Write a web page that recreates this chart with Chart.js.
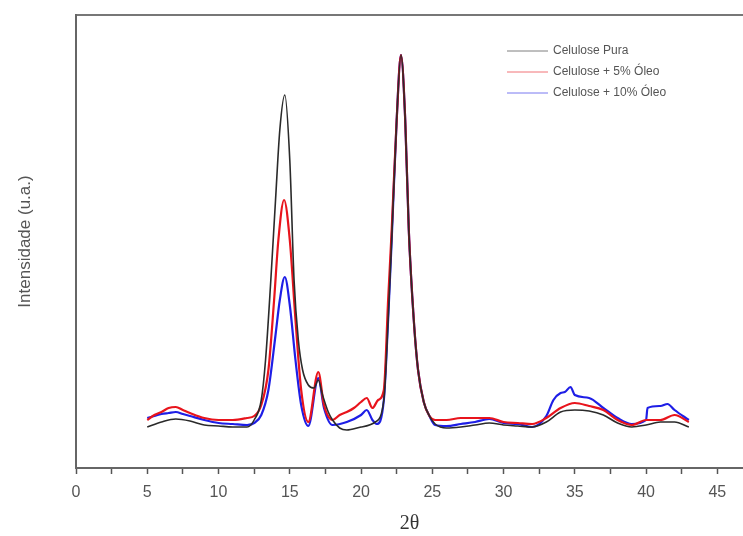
<!DOCTYPE html>
<html>
<head>
<meta charset="utf-8">
<script src="https://cdn.jsdelivr.net/npm/chart.js@4/dist/chart.umd.min.js"></script>
<style>
  html, body { margin:0; padding:0; background:#fff; }
  #wrap { width:743px; height:536px; position:relative; }
</style>
</head>
<body>
<div id="wrap"><canvas id="grafico"></canvas></div>
<script>
// ---------------- Dados ----------------
const rotulos = ['Celulose Pura', 'Celulose + 5% Óleo', 'Celulose + 10% Óleo'];
const xTicks = [0, 5, 10, 15, 20, 25, 30, 35, 40, 45];

const xPura = [5,6,7,8,9,10,11,12,12.5,13,13.3,13.67,14,14.3,14.65,15,15.3,15.6,15.9,16.3,16.7,17,17.3,17.7,18,18.5,19,20,21,21.6,21.9,22.15,22.5,22.8,23.1,23.35,23.7,24,24.4,24.8,25.2,26,27,28,29,30,31,32,33,34,35,36,37,38,39,40,41,42,43];
const yPura = [41,46,49,47,43,42,41,41,48,68,108,188,268,338,373,308,188,128,98,83,80,88,73,56,48,40,38,41,46,68,148,228,348,413,348,238,148,98,66,52,44,40,41,43,45,43,42,41,46,56,58,57,53,45,41,43,46,46,41];

const x5 = [5,5.5,6,6.5,7,7.5,8,9,10,11,12,12.5,13,13.5,13.9,14.2,14.6,15,15.4,15.8,16.3,17,17.4,18,18.5,19,19.5,20,20.4,20.8,21.2,21.6,21.9,22.15,22.5,22.8,23.1,23.35,23.7,24,24.4,24.8,25.2,26,27,28,29,30,31,32,33,34,35,36,37,38,39,40,41,42,43];
const y5 = [48,53,56,60,61,58,55,50,48,48,50,52,63,98,168,228,268,228,148,78,46,96,63,48,53,56,60,66,70,60,68,78,168,238,348,413,348,238,148,98,66,52,48,48,50,50,50,46,45,44,50,60,65,62,58,48,43,48,48,53,46];

const x10 = [5,5.5,6,6.5,7,7.5,8,9,10,11,12,12.5,13,13.5,14,14.3,14.65,15,15.4,15.8,16.3,17,17.4,18,19,20,20.4,20.8,21.1,21.6,21.9,22.15,22.5,22.8,23.1,23.35,23.7,24,24.4,24.8,25.2,26,27,28,29,30,31,32,33,33.5,34,34.3,34.7,35,36,37,38,39,40,40.1,41,41.5,42,43];
const y10 = [50,52,54,55,56,54,52,48,45,44,43,45,53,78,133,168,191,163,108,63,42,90,60,43,46,53,58,48,44,68,148,228,348,413,348,238,148,98,66,52,43,42,44,46,49,45,44,41,52,68,75,76,81,73,70,60,50,44,48,60,62,64,58,48];

const cores = ['#2a2a2a', '#e8141c', '#1e1ee6'];
const espessuras = [1.6, 2.2, 2.2];

// ---------------- Funções ----------------
const pares = (xs, ys) => xs.map((x, i) => ({ x: x, y: ys[i] }));

// legenda desenhada dentro da área do gráfico
const legendaInterna = {
  id: 'legendaInterna',
  afterDraw(chart) {
    const ctx = chart.ctx;
    ctx.save();
    ctx.font = '12px "Liberation Sans", Arial, sans-serif';
    ctx.textBaseline = 'middle';
    chart.data.datasets.forEach((ds, i) => {
      const y = 51 + i * 21;
      ctx.strokeStyle = ds.borderColor;
      ctx.globalAlpha = 0.6;
      ctx.lineWidth = 1;
      ctx.beginPath();
      ctx.moveTo(507, y);
      ctx.lineTo(548, y);
      ctx.stroke();
      ctx.globalAlpha = 1;
      ctx.fillStyle = '#555';
      ctx.fillText(ds.label, 553, y);
    });
    ctx.restore();
  }
};

const series = [pares(xPura, yPura), pares(x5, y5), pares(x10, y10)];

new Chart(document.getElementById('grafico').getContext('2d'), {
  type: 'line',
  data: {
    datasets: series.map((d, i) => ({
      label: rotulos[i], data: d,
      borderColor: cores[i], borderWidth: espessuras[i],
      pointRadius: 0, fill: false, cubicInterpolationMode: 'monotone'
    }))
  },
  options: {
    responsive: true, maintainAspectRatio: false, animation: false,
    layout: { padding: 0 },
    plugins: { legend: { display: false }, tooltip: { enabled: false } },
    scales: {
      x: {
        type: 'linear', min: 0, max: 46.8, position: 'bottom',
        afterFit: s => { s.height = 68; },
        border: { display: true, color: '#666', width: 2 },
        grid: { display: true, drawOnChartArea: false, drawTicks: true, tickLength: 6, tickColor: '#555', tickWidth: 1.5 },
        ticks: {
          stepSize: 2.5, includeBounds: false, autoSkip: false, maxRotation: 0, padding: 9,
          color: '#555', font: { family: '"Liberation Sans", Arial, sans-serif', size: 16 },
          callback: v => xTicks.includes(v) ? String(v) : ''
        },
        title: { display: true, text: '2θ', color: '#333', padding: { top: 0, bottom: 0 },
          font: { family: '"Liberation Serif", "DejaVu Serif", serif', size: 20 } }
      },
      xTopo: {
        type: 'linear', min: 0, max: 46.8, position: 'top',
        afterFit: s => { s.height = 15; },
        border: { display: true, color: '#777', width: 2 },
        grid: { display: false }, ticks: { display: false }
      },
      y: {
        min: 0, max: 453,
        afterFit: s => { s.width = 76; },
        border: { display: true, color: '#666', width: 2 },
        grid: { display: false }, ticks: { display: false },
        title: { display: true, text: 'Intensidade (u.a.)', color: '#555', padding: { top: 15, bottom: 0 },
          font: { family: '"Liberation Sans", Arial, sans-serif', size: 17 } }
      }
    }
  },
  plugins: [legendaInterna]
});
</script>
</body>
</html>
